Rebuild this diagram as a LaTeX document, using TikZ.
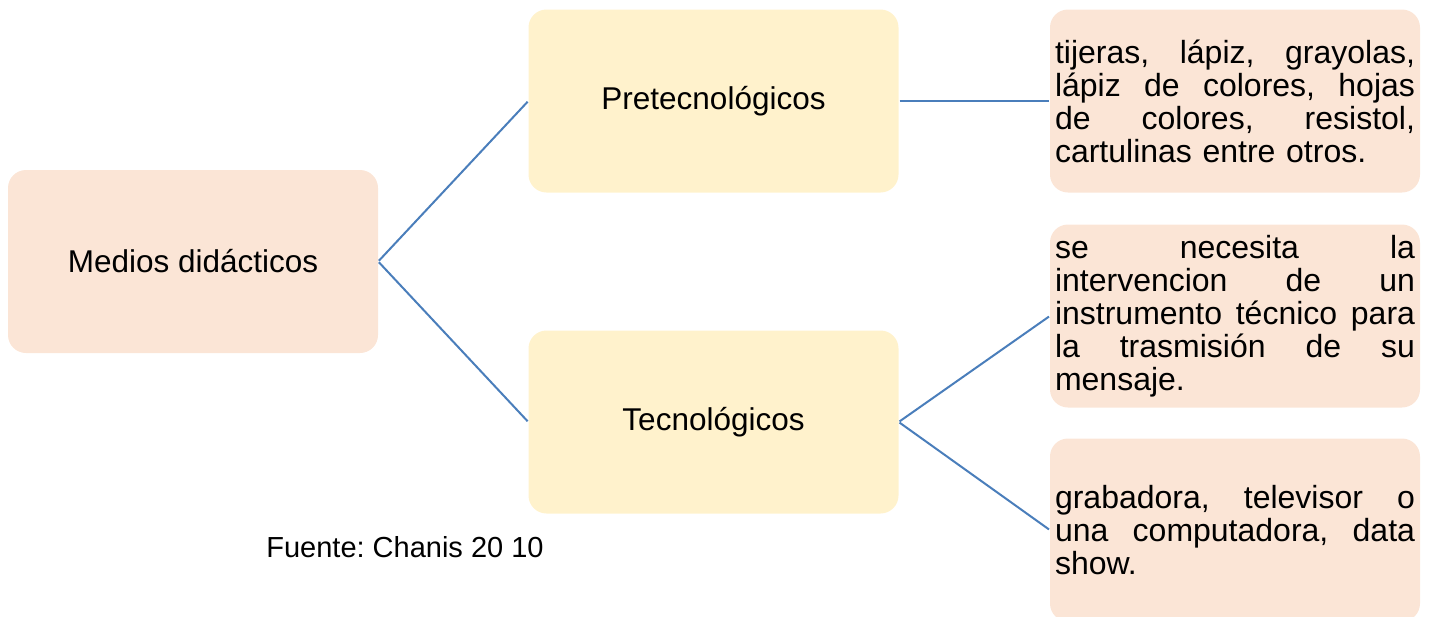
\documentclass[tikz,border=0pt]{standalone}
\usepackage{fontspec}
\setmainfont{Liberation Sans}
\frenchspacing
\definecolor{peach}{HTML}{FBE5D6}
\definecolor{cream}{HTML}{FFF2CC}
\definecolor{linkblue}{HTML}{4A7EBB}
\newcommand{\jline}[1]{\makebox[360pt][l]{#1}}
\begin{document}
\begin{tikzpicture}[x=1pt,y=-1pt,
  box/.style={rectangle, rounded corners=18pt, minimum width=370pt, minimum height=183pt, inner sep=0pt, font=\fontsize{31.5}{36}\selectfont},
  peachbox/.style={box, fill=peach},
  creambox/.style={box, fill=cream},
  textbox/.style={box, fill=peach, text width=360pt, align=left, font=\fontsize{32}{33}\selectfont},
  link/.style={draw=linkblue, line width=2pt, shorten <=1pt, shorten >=1pt}]
\useasboundingbox (0,0) rectangle (1431,616);
\clip (0,0) rectangle (1431,616);
\node[peachbox] (med) at (193,261.5) {Medios didácticos};
\node[creambox] (pre) at (713.5,101) {Pretecnológicos};
\node[creambox] (tec) at (713.5,422) {Tecnológicos};
\node[textbox] (t1) at (1235,101) {\jline{tijeras,\hfill lápiz,\hfill grayolas,}\\\jline{lápiz\hfill de\hfill colores,\hfill hojas}\\\jline{de\hfill colores,\hfill resistol,}\\cartulinas entre otros.};
\node[textbox] (t2) at (1235,316) {\jline{se\hfill necesita\hfill la}\\\jline{intervencion\hfill de\hfill un}\\\jline{instrumento\hfill técnico\hfill para}\\\jline{la\hfill trasmisión\hfill de\hfill su}\\mensaje.};
\node[textbox] (t3) at (1235,530) {\jline{grabadora,\hfill televisor\hfill o}\\\jline{una\hfill computadora,\hfill data}\\show.};
\node[anchor=center, inner sep=0pt, font=\fontsize{29}{33}\selectfont] (src) at (405,547) {Fuente: Chanis 20 10};
\draw[link] (med.east) -- (pre.west);
\draw[link] (med.east) -- (tec.west);
\draw[link] (pre.east) -- (t1.west);
\draw[link] (tec.east) -- (t2.west);
\draw[link] (tec.east) -- (t3.west);
\end{tikzpicture}
\end{document}
